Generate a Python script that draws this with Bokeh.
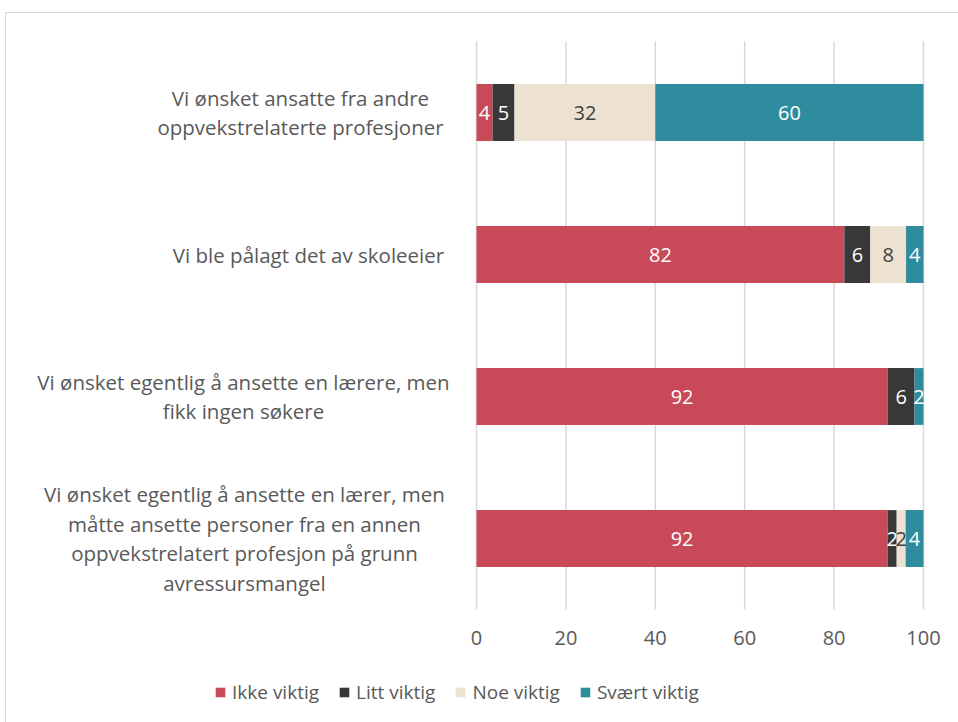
from bokeh.plotting import figure
from bokeh.models import (ColumnDataSource, Range1d, Label, Legend, LegendItem)
from bokeh.core.properties import value
from bokeh.embed import file_html
from bokeh.resources import INLINE

# ---- data ----
categories = [
    "Vi ønsket ansatte fra andre\noppvekstrelaterte profesjoner",
    "Vi ble pålagt det av skoleeier",
    "Vi ønsket egentlig å ansette en lærere, men\nfikk ingen søkere",
    "Vi ønsket egentlig å ansette en lærer, men\nmåtte ansette personer fra en annen\noppvekstrelatert profesjon på grunn\navressursmangel",
]
series = ["Ikke viktig", "Litt viktig", "Noe viktig", "Svært viktig"]
ikke_viktig = [3.6, 82.3, 92.0, 92.0]
litt_viktig = [4.9, 5.8, 6.0, 2.0]
noe_viktig = [31.5, 8.0, 0.0, 2.0]
svaert_viktig = [60.0, 3.9, 2.0, 4.0]
x_ticks = [0, 20, 40, 60, 80, 100]
x_tick_labels = ["0", "20", "40", "60", "80", "100"]

colors = ["#C84A59", "#383838", "#EDE1D2", "#2E8C9E"]
label_colors = ["#FFFFFF", "#FFFFFF", "#404040", "#FFFFFF"]
FONT = "Open Sans"
GREY = "#595959"

keys = ["ikke", "litt", "noe", "svaert"]
vals = [ikke_viktig, litt_viktig, noe_viktig, svaert_viktig]
n = len(categories)
row = list(range(n))  # row index, 0 = top
data = {"row": row, "cat": categories}
for k, v in zip(keys, vals):
    data[k] = v
src = ColumnDataSource(data)

# ---- layout geometry (pixels) ----
FRAME_W, FRAME_H = 952, 709
X0_PX = 470          # horizontal pixel of value 0 within the frame
PX_PER_UNIT = 4.47   # pixels per percentage point
ROW_PX = 142         # pixels per row
TOP_PX = 99          # first row centre below frame top
x_start = -X0_PX / PX_PER_UNIT
x_end = x_start + FRAME_W / PX_PER_UNIT
y_top = -TOP_PX / ROW_PX
y_bottom = y_top + FRAME_H / ROW_PX

p = figure(
    x_range=Range1d(x_start, x_end),
    y_range=Range1d(y_bottom, y_top),
    frame_width=FRAME_W, frame_height=FRAME_H,
    min_border=0,
    x_axis_location=None, y_axis_location=None,
    output_backend="svg", toolbar_location=None,
)
p.styles = {"border-left": "1px solid #D9D9D9", "border-top": "1px solid #D9D9D9",
            "margin-left": "5px", "margin-top": "12px"}
p.outline_line_color = None
p.background_fill_color = "white"
p.border_fill_color = "white"
p.grid.visible = False

# vertical gridlines at the ticks
p.segment(x0=x_ticks, x1=x_ticks, y0=-0.5, y1=n - 0.5,
          line_color="#D9D9D9", line_width=1.5)

renderers = p.hbar_stack(keys, y="row", height=0.4, color=colors,
                         line_color=None, source=src)

# value labels inside bars
lx, ly, lt, lc = [], [], [], []
for j, v in enumerate(vals):
    for i in row:
        if v[i] <= 0:
            continue
        start = sum(vals[m][i] for m in range(j))
        lx.append(start + v[i] / 2)
        ly.append(i)
        lt.append(f"{v[i]:.0f}")
        lc.append(label_colors[j])
p.text(x=lx, y=ly, text=lt, text_color=lc, text_align="center",
       text_baseline="middle", text_font=value(FONT), text_font_size="20px")

# x tick labels
p.text(x=x_ticks, y=[n - 0.5 + 28 / ROW_PX] * len(x_ticks), text=x_tick_labels,
       text_color=GREY, text_align="center", text_baseline="middle",
       text_font=value(FONT), text_font_size="20px")

# category labels (lines centred within each block)
label_center_px = [300, 308, 243, 244]
for i, (cat, cpx) in enumerate(zip(categories, label_center_px)):
    p.add_layout(Label(x=(cpx - 476) / PX_PER_UNIT, y=i, text=cat,
                       text_align="center", text_baseline="middle",
                       text_font=FONT, text_font_size="20.5px",
                       text_line_height=1.06,
                       text_color=GREY))

legend = Legend(
    items=[LegendItem(label=s, renderers=[r]) for s, r in zip(series, renderers)],
    orientation="horizontal", location=(208, 17),
    label_text_font=FONT, label_text_font_size="19px", label_text_color=GREY,
    glyph_width=12, glyph_height=12, label_standoff=6, spacing=19,
    border_line_color=None, background_fill_alpha=0,
    padding=0, margin=0,
)
p.add_layout(legend)

open("out.html", "w").write(file_html(p, INLINE))
